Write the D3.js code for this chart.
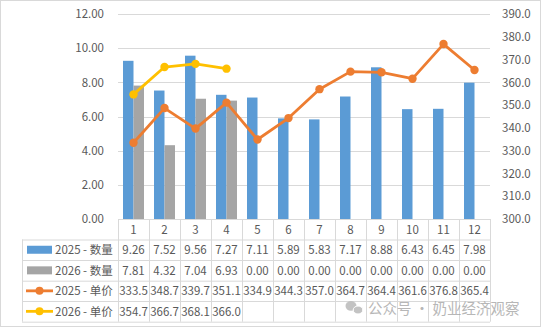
<!DOCTYPE html>
<html>
<head>
<meta charset="utf-8">
<script src="https://cdn.jsdelivr.net/npm/d3@7"></script>
<style>
body { margin: 0; background: #fff; }
text { font-family: "Noto Sans CJK SC", "Liberation Sans", sans-serif; fill: #595959; }
</style>
</head>
<body>
<div id="chart-area"></div>
<script>
let months = ["1", "2", "3", "4", "5", "6", "7", "8", "9", "10", "11", "12"];
let qty2025 = [9.26, 7.52, 9.56, 7.27, 7.11, 5.89, 5.83, 7.17, 8.88, 6.43, 6.45, 7.98];
let qty2026 = [7.81, 4.32, 7.04, 6.93, 0, 0, 0, 0, 0, 0, 0, 0];
let price2025 = [333.5, 348.7, 339.7, 351.1, 334.9, 344.3, 357.0, 364.7, 364.4, 361.6, 376.8, 365.4];
let price2026 = [354.7, 366.7, 368.1, 366.0];
let leftTicks = [0, 2, 4, 6, 8, 10, 12];
let rightTicks = [300, 310, 320, 330, 340, 350, 360, 370, 380, 390];

let W = 541, H = 329;
let margin = {left: 118, right: 51, top: 14, bottom: 110};
let width = W - margin.left - margin.right;
let height = H - margin.top - margin.bottom;

let svg = d3.select("#chart-area").append("svg")
	.attr("width", W).attr("height", H);

svg.append("rect")
	.attr("x", 0.5).attr("y", 0.5).attr("width", W - 1).attr("height", H - 3)
	.attr("fill", "#fff").attr("stroke", "#d9d9d9");

let g = svg.append("g").attr("transform", "translate(" + margin.left + "," + margin.top + ")");

let x = d3.scaleBand().domain(months).range([0, width]);
let yL = d3.scaleLinear().domain([0, 12]).range([height, 0]);
let yR = d3.scaleLinear().domain([300, 390]).range([height, 0]);

// gridlines
g.append("g").selectAll("line").data(leftTicks).enter().append("line")
	.attr("x1", 0).attr("x2", width)
	.attr("y1", d => Math.round(yL(d)) + 0.5).attr("y2", d => Math.round(yL(d)) + 0.5)
	.attr("stroke", "#d9d9d9");

// left axis
let yAxisL = d3.axisLeft(yL).tickValues(leftTicks).tickFormat(d3.format(".2f")).tickSize(0).tickPadding(14);
g.append("g").call(yAxisL).call(a => a.select(".domain").remove())
	.selectAll("text").style("font-size", "11.5px").style("fill", "#595959");

// right axis
let yAxisR = d3.axisRight(yR).tickValues(rightTicks).tickFormat(d3.format(".1f")).tickSize(0).tickPadding(12);
g.append("g").attr("transform", "translate(" + width + ",0)").call(yAxisR)
	.call(a => a.select(".domain").remove())
	.selectAll("text").style("font-size", "11.5px").style("fill", "#595959");

// bars
let bw = 10.5;
g.append("g").selectAll("rect").data(qty2025).enter().append("rect")
	.attr("x", (d, i) => x(months[i]) + x.bandwidth() / 2 - bw)
	.attr("y", d => yL(d)).attr("width", bw).attr("height", d => height - yL(d))
	.attr("fill", "#5b9bd5");
g.append("g").selectAll("rect").data(qty2026).enter().append("rect")
	.attr("x", (d, i) => x(months[i]) + x.bandwidth() / 2)
	.attr("y", d => yL(d)).attr("width", bw).attr("height", d => height - yL(d))
	.attr("fill", "#a5a5a5");

// lines
function drawLine(data, color) {
	let line = d3.line().x((d, i) => x(months[i]) + x.bandwidth() / 2).y(d => yR(d));
	g.append("path").attr("d", line(data)).attr("fill", "none")
		.attr("stroke", color).attr("stroke-width", 2.8).attr("stroke-linejoin", "round");
	g.append("g").selectAll("circle").data(data).enter().append("circle")
		.attr("cx", (d, i) => x(months[i]) + x.bandwidth() / 2).attr("cy", d => yR(d))
		.attr("r", 4.2).attr("fill", color);
}
drawLine(price2025, "#ed7d31");
drawLine(price2026, "#ffc000");

// data table
let tableLeft = 22 - margin.left;
let rowY = [height, height + 20.5, height + 41, height + 61.7, height + 82, height + 102.7];
let tg = g.append("g");
let gridColor = "#d9d9d9";
// horizontal lines
rowY.forEach((yy, i) => {
	tg.append("line").attr("x1", i === 0 ? 0 : tableLeft).attr("x2", width)
		.attr("y1", yy + 0.5).attr("y2", yy + 0.5).attr("stroke", gridColor);
});
// vertical lines
tg.append("line").attr("x1", tableLeft + 0.5).attr("x2", tableLeft + 0.5)
	.attr("y1", rowY[1]).attr("y2", rowY[5]).attr("stroke", gridColor);
months.concat(["end"]).forEach((m, i) => {
	let xx = Math.round(i * x.bandwidth()) + 0.5;
	tg.append("line").attr("x1", xx).attr("x2", xx)
		.attr("y1", rowY[0]).attr("y2", rowY[5]).attr("stroke", gridColor);
});
// header
tg.selectAll(".hdr").data(months).enter().append("text")
	.attr("x", d => x(d) + x.bandwidth() / 2).attr("y", rowY[0] + 14.5)
	.attr("text-anchor", "middle").style("font-size", "11.5px").text(d => d);

let rows = [
	{label: "2025 - 数量", vals: qty2025, fmt: d3.format(".2f"), color: "#5b9bd5", type: "bar"},
	{label: "2026 - 数量", vals: qty2026, fmt: d3.format(".2f"), color: "#a5a5a5", type: "bar"},
	{label: "2025 -  单价", vals: price2025, fmt: d3.format(".1f"), color: "#ed7d31", type: "line"},
	{label: "2026 -  单价", vals: price2026, fmt: d3.format(".1f"), color: "#ffc000", type: "line"}
];
rows.forEach((r, ri) => {
	let cy = (rowY[ri + 1] + rowY[ri + 2]) / 2;
	if (r.type === "bar") {
		tg.append("rect").attr("x", tableLeft + 5).attr("y", cy - 4).attr("width", 25).attr("height", 8).attr("fill", r.color);
	} else {
		tg.append("line").attr("x1", tableLeft + 4).attr("x2", tableLeft + 31)
			.attr("y1", cy).attr("y2", cy).attr("stroke", r.color).attr("stroke-width", 2.8);
		tg.append("circle").attr("cx", tableLeft + 17.5).attr("cy", cy).attr("r", 4).attr("fill", r.color);
	}
	tg.append("text").attr("x", tableLeft + 33).attr("y", cy + 4.5)
		.style("font-size", "11.5px").text(r.label);
	tg.append("g").selectAll("text").data(r.vals).enter().append("text")
		.attr("x", (d, i) => x(months[i]) + x.bandwidth() / 2).attr("y", cy + 4.5)
		.attr("text-anchor", "middle").style("font-size", "11.5px").text(d => r.fmt(d));
});

// watermark
let wm = svg.append("g").attr("opacity", 0.75);
wm.append("ellipse").attr("cx", 351).attr("cy", 306).attr("rx", 5.5).attr("ry", 4.8).attr("fill", "#b0b0b0");
wm.append("ellipse").attr("cx", 358).attr("cy", 310).attr("rx", 4.8).attr("ry", 4).attr("fill", "#b0b0b0").attr("stroke", "#fff").attr("stroke-width", 1);
wm.append("text").attr("x", 368).attr("y", 313.5).style("font-size", "14.5px").style("fill", "#a0a0a0")
	.text("公众号 · 奶业经济观察");
</script>
</body>
</html>
